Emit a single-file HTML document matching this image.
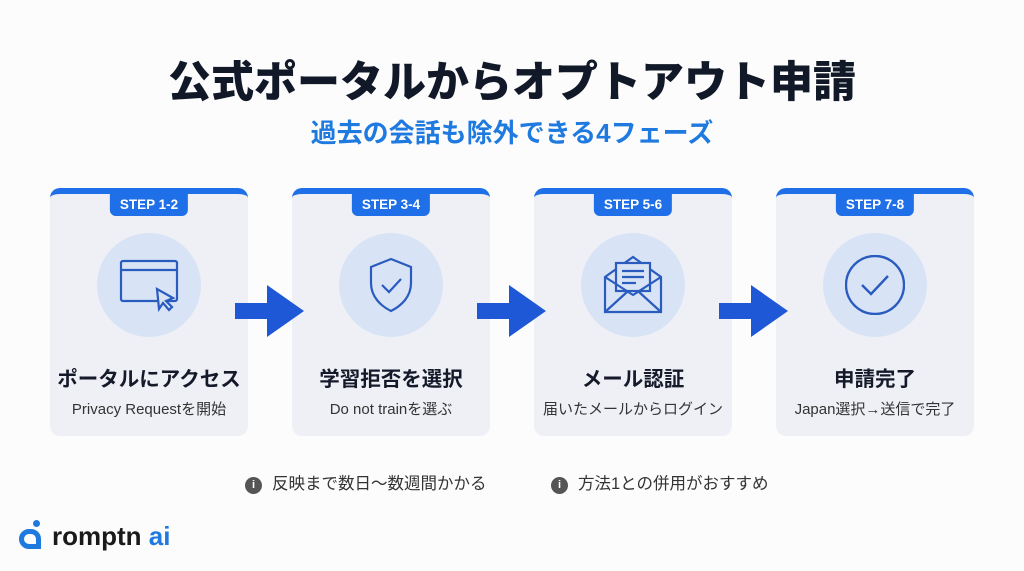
<!DOCTYPE html>
<html><head><meta charset="utf-8"><style>
*{margin:0;padding:0;box-sizing:border-box}
body{width:1024px;height:571px;background:#fcfcfd;position:relative;overflow:hidden;font-family:"Liberation Sans","Noto Sans CJK JP",sans-serif}
.t{position:absolute;left:0;width:1024px;text-align:center}
.card{position:absolute;top:188px;width:198px;height:248px;background:#eff0f5;border-radius:10px;border-top:6px solid #1f6fe8;overflow:hidden}
.badge{position:absolute;left:50%;transform:translateX(-50%);top:0;background:#1f6fe8;color:#fff;font-weight:bold;font-size:13.5px;padding:3px 10px 4px;border-radius:0 0 6px 6px;white-space:nowrap}
.circ{position:absolute;left:47px;top:39px;width:104px;height:104px;border-radius:50%;background:#d8e4f5}
.circ svg{position:absolute;left:22px;top:22px}
.h{position:absolute;top:168px;width:100%;text-align:center;font-weight:bold;font-size:20.5px;color:#151a2a;white-space:nowrap}
.s{position:absolute;top:204px;width:100%;text-align:center;font-size:15px;color:#333;white-space:nowrap}
.arr{position:absolute;top:285px}
.note{position:absolute;top:470px;font-size:16.5px;color:#333}
.note i{display:inline-block;width:17px;height:17px;border-radius:50%;background:#555;color:#fff;font-style:normal;font-weight:bold;font-size:11px;text-align:center;line-height:17px;margin-right:10px;vertical-align:1px}
</style></head><body>
<div class="t" style="top:48px;font-size:43px;font-weight:900;color:#111827">公式ポータルからオプトアウト申請</div>
<div class="t" style="top:113px;font-size:26px;font-weight:bold;color:#1f7ae0">過去の会話も除外できる4フェーズ</div>

<div class="card" style="left:50px"><div class="badge">STEP 1-2</div>
<div class="circ"><svg width="60" height="60" viewBox="0 0 60 60" fill="none" stroke="#2a5bbf" stroke-width="2.2"><rect x="2" y="6" width="56" height="40" rx="2"/><line x1="2" y1="15" x2="58" y2="15"/><path d="M38 34 L40 54 L44 48 L50 55 L53 52 L47 46 L54 43 Z" fill="#d8e4f5"/></svg></div>
<div class="h">ポータルにアクセス</div><div class="s">Privacy Requestを開始</div></div>

<div class="card" style="left:292px"><div class="badge">STEP 3-4</div>
<div class="circ"><svg width="60" height="60" viewBox="0 0 60 60" fill="none" stroke="#2a5bbf" stroke-width="2.2"><path d="M30 4 L50 12 V28 C50 42 40 51 30 56 C20 51 10 42 10 28 V12 Z"/><path d="M21 30 L28 37 L40 24"/></svg></div>
<div class="h">学習拒否を選択</div><div class="s">Do not trainを選ぶ</div></div>

<div class="card" style="left:534px"><div class="badge">STEP 5-6</div>
<div class="circ"><svg width="60" height="60" viewBox="0 0 60 60" fill="none" stroke="#2a5bbf" stroke-width="2.2"><path d="M2 22 L30 2 L58 22 V57 H2 Z"/><rect x="13" y="8" width="34" height="28" fill="#d8e4f5"/><line x1="19" y1="16" x2="41" y2="16"/><line x1="19" y1="22" x2="41" y2="22"/><line x1="19" y1="28" x2="33" y2="28"/><path d="M2 22 L30 40 L58 22"/><path d="M2 57 L24 37 M58 57 L36 37"/></svg></div>
<div class="h">メール認証</div><div class="s">届いたメールからログイン</div></div>

<div class="card" style="left:776px"><div class="badge">STEP 7-8</div>
<div class="circ"><svg width="60" height="60" viewBox="0 0 60 60" fill="none" stroke="#2a5bbf" stroke-width="2.4"><circle cx="30" cy="30" r="29"/><path d="M17 30 L26 39 L43 21"/></svg></div>
<div class="h">申請完了</div><div class="s">Japan選択→送信で完了</div></div>

<svg class="arr" style="left:235px" width="70" height="52"><path d="M0 18 H32 V0 L69 26 L32 52 V34 H0 Z" fill="#1f58d6"/></svg>
<svg class="arr" style="left:477px" width="70" height="52"><path d="M0 18 H32 V0 L69 26 L32 52 V34 H0 Z" fill="#1f58d6"/></svg>
<svg class="arr" style="left:719px" width="70" height="52"><path d="M0 18 H32 V0 L69 26 L32 52 V34 H0 Z" fill="#1f58d6"/></svg>

<div class="note" style="left:245px"><i>i</i>反映まで数日〜数週間かかる</div>
<div class="note" style="left:551px"><i>i</i>方法1との併用がおすすめ</div>

<div style="position:absolute;left:19px;top:520px;width:24px;height:28px">
<div style="position:absolute;left:14px;top:0;width:7px;height:7px;border-radius:50%;background:#1f7ae0"></div>
<div style="position:absolute;left:0;top:9px;width:22px;height:20px;border:5px solid #1f7ae0;border-radius:11px 11px 0 11px"></div></div>
<div style="position:absolute;left:52px;top:521px;font-size:26px;font-weight:bold;color:#1a1a1a">romptn <span style="color:#1f7ae0">ai</span></div>
</body></html>
